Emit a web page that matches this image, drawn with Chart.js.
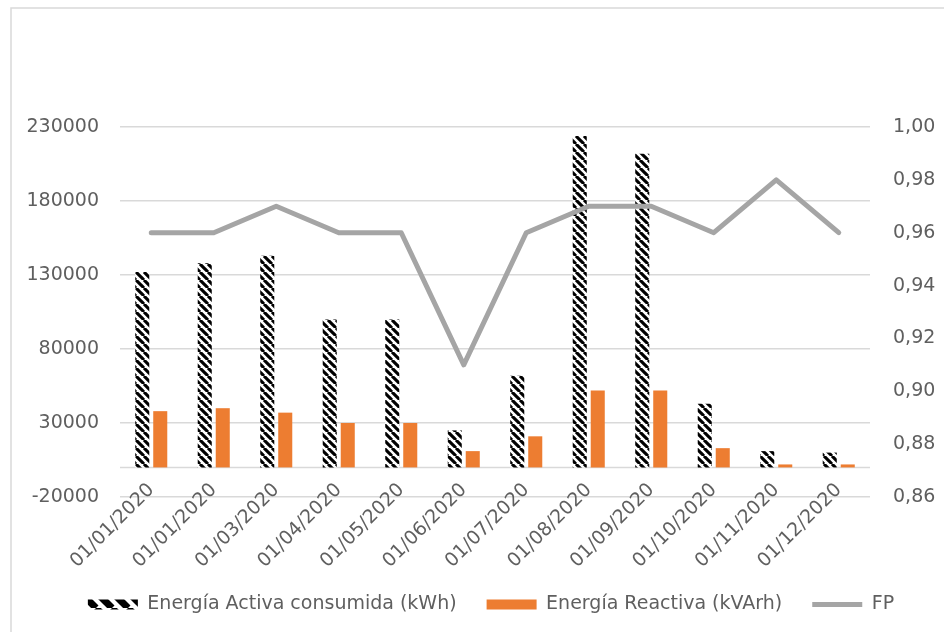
<!DOCTYPE html>
<html>
<head>
<meta charset="utf-8">
<script src="https://cdn.jsdelivr.net/npm/chart.js@4/dist/chart.umd.min.js"></script>
<style>
  html, body { margin: 0; padding: 0; background: #fff; }
  #wrap { width: 944px; height: 632px; }
</style>
</head>
<body>
<div id="wrap"><canvas id="c" width="944" height="632"></canvas></div>
<script>
// Monthly energy data
const categories = ['01/01/2020', '01/01/2020', '01/03/2020', '01/04/2020', '01/05/2020', '01/06/2020',
                    '01/07/2020', '01/08/2020', '01/09/2020', '01/10/2020', '01/11/2020', '01/12/2020'];
const energiaActiva = [132000, 138000, 143000, 100000, 100000, 25000, 62000, 224000, 212000, 43000, 11000, 10000];
const energiaReactiva = [38000, 40000, 37000, 30000, 30000, 11000, 21000, 52000, 52000, 13000, 2000, 2000];
const fp = [0.96, 0.96, 0.97, 0.96, 0.96, 0.91, 0.96, 0.97, 0.97, 0.96, 0.98, 0.96];
const leftTicks = [-20000, 30000, 80000, 130000, 180000, 230000];
const rightTicks = [0.86, 0.88, 0.90, 0.92, 0.94, 0.96, 0.98, 1.00];

const FONT = 'DejaVu Sans';
const SIZE = 19;
const TEXT = '#5f5f5f';
const GRID = '#d9d9d9';

const canvas = document.getElementById('c');
const ctx = canvas.getContext('2d');

// Diagonal black/white hatch ("\" direction)
function stripes(size, width) {
  const c = document.createElement('canvas');
  c.width = c.height = size;
  const g = c.getContext('2d');
  g.fillStyle = '#fff';
  g.fillRect(0, 0, size, size);
  g.strokeStyle = '#000';
  g.lineWidth = width;
  for (const dx of [-size, 0, size]) {
    g.beginPath();
    g.moveTo(dx, 0);
    g.lineTo(dx + size, size);
    g.stroke();
  }
  return ctx.createPattern(c, 'repeat');
}
const barHatch = stripes(8, 3.1);
const legendHatch = stripes(16, 7);

// Outer frame and the category axis line at zero
const decorations = {
  id: 'decorations',
  beforeDraw(chart) {
    const g = chart.ctx;
    g.save();
    g.fillStyle = '#fff';
    g.fillRect(0, 0, chart.width, chart.height);
    g.strokeStyle = GRID;
    g.lineWidth = 1.5;
    g.strokeRect(11, 8, chart.width + 20, chart.height + 20);
    g.restore();
  },
  beforeDatasetsDraw(chart) {
    const g = chart.ctx;
    const y = Math.round(chart.scales.y.getPixelForValue(0)) + 0.5;
    g.save();
    g.strokeStyle = GRID;
    g.lineWidth = 1.5;
    g.beginPath();
    g.moveTo(chart.chartArea.left, y);
    g.lineTo(chart.chartArea.right, y);
    g.stroke();
    g.restore();
  }
};

// Fixed box sizes for the value axes; their labels may run past the box edge
function fixWidth(w) {
  return axis => {
    axis.width = w;
    axis.paddingTop = 0;
    axis.paddingBottom = 0;
    axis._computeLabelArea = () => undefined;
  };
}

new Chart(ctx, {
  type: 'bar',
  data: {
    labels: categories,
    datasets: [
      {
        label: 'Energía Activa consumida (kWh)',
        data: energiaActiva,
        backgroundColor: barHatch,
        borderWidth: 0,
        pointStyle: 'rect',
        yAxisID: 'y',
        order: 1,
        barPercentage: 0.78,
        categoryPercentage: 0.576
      },
      {
        label: 'Energía Reactiva (kVArh)',
        data: energiaReactiva,
        backgroundColor: '#ed7d31',
        borderWidth: 0,
        pointStyle: 'rect',
        yAxisID: 'y',
        order: 1,
        barPercentage: 0.78,
        categoryPercentage: 0.576
      },
      {
        type: 'line',
        label: 'FP',
        data: fp,
        borderColor: '#a5a5a5',
        backgroundColor: '#a5a5a5',
        borderWidth: 5,
        borderCapStyle: 'round',
        borderJoinStyle: 'round',
        pointRadius: 0,
        pointHoverRadius: 0,
        pointStyle: 'line',
        tension: 0,
        yAxisID: 'y1',
        order: 0
      }
    ]
  },
  options: {
    responsive: false,
    devicePixelRatio: 1,
    animation: false,
    layout: { padding: { top: 127, left: 38, right: 0, bottom: 8 } },
    plugins: {
      tooltip: { enabled: false },
      legend: {
        position: 'bottom',
        labels: {
          usePointStyle: true,
          pointStyleWidth: 50,
          boxHeight: 10,
          padding: 30,
          color: TEXT,
          font: { family: FONT, size: SIZE },
          sort: (a, b) => a.datasetIndex - b.datasetIndex,
          generateLabels(chart) {
            const items = Chart.defaults.plugins.legend.labels.generateLabels(chart);
            items.forEach(it => { if (it.datasetIndex === 0) it.fillStyle = legendHatch; });
            return items;
          }
        }
      }
    },
    scales: {
      x: {
        offset: true,
        grid: { display: false },
        border: { display: false },
        afterFit(axis) {
          axis.height = 68;
          axis.paddingLeft = 0;
          axis.paddingRight = 0;
          // the rotated dates start a little above the axis box, so do not clip them to it
          axis._computeLabelArea = () => undefined;
        },
        ticks: {
          autoSkip: false,
          maxRotation: 45,
          minRotation: 45,
          padding: -26,
          color: TEXT,
          font: { family: FONT, size: SIZE }
        }
      },
      y: {
        position: 'left',
        min: -20000,
        max: 230000,
        afterBuildTicks(axis) { axis.ticks = leftTicks.map(v => ({ value: v })); },
        afterFit: fixWidth(82),
        grid: { color: GRID, lineWidth: 1.5, drawTicks: false },
        border: { display: false },
        ticks: {
          padding: 21,
          color: TEXT,
          font: { family: FONT, size: SIZE },
          callback: v => String(v)
        }
      },
      y1: {
        position: 'right',
        min: 0.86,
        max: 1.00,
        afterBuildTicks(axis) { axis.ticks = rightTicks.map(v => ({ value: v })); },
        afterFit: fixWidth(74),
        grid: { drawOnChartArea: false, drawTicks: false },
        border: { display: false },
        ticks: {
          padding: 23,
          color: TEXT,
          font: { family: FONT, size: SIZE },
          callback: v => Number(v).toFixed(2).replace('.', ',')
        }
      }
    }
  },
  plugins: [decorations]
});
</script>
</body>
</html>
